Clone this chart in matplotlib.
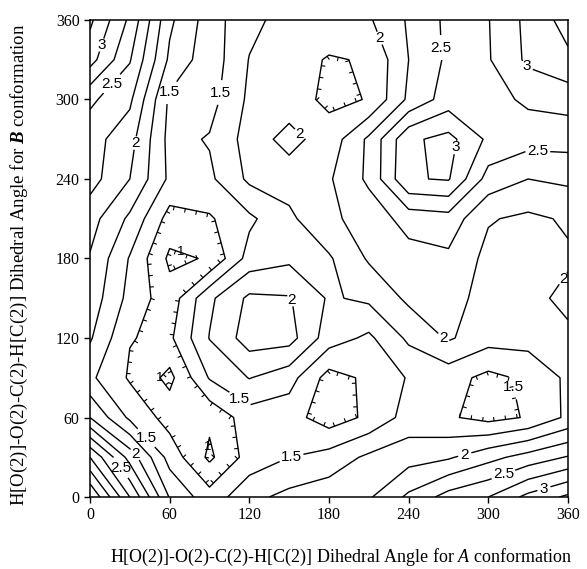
import numpy as np
import matplotlib
matplotlib.use("Agg")
import matplotlib.pyplot as plt
from matplotlib.path import Path
from matplotlib.collections import LineCollection

# grid of the two dihedral angles (degrees)
angle_a = [0, 30, 60, 90, 120, 150, 180, 210, 240, 270, 300, 330, 360]
angle_b = [0, 30, 60, 90, 120, 150, 180, 210, 240, 270, 300, 330, 360]

# relative energy, one list per B angle, A angle left to right
energy_b000 = [3.75, 2.75, 1.73, 1.35, 1.68, 1.82, 1.90, 1.97, 2.30, 2.60, 2.75, 3.07, 3.30]
energy_b030 = [3.00, 2.15, 1.40, 0.95, 1.35, 1.50, 1.60, 1.80, 1.90, 1.97, 2.17, 2.35, 2.52]
energy_b060 = [2.00, 1.45, 1.15, 1.05, 1.38, 1.35, 1.12, 1.30, 1.60, 1.53, 1.42, 1.52, 1.80]
energy_b090 = [1.55, 1.22, 0.93, 1.52, 1.76, 1.60, 1.15, 1.30, 1.52, 1.60, 1.43, 1.55, 1.80]
energy_b120 = [1.78, 1.26, 1.20, 1.76, 2.12, 2.10, 1.62, 1.45, 1.80, 2.03, 1.85, 1.85, 1.95]
energy_b150 = [1.90, 1.42, 1.10, 1.70, 2.05, 2.02, 1.72, 1.80, 2.05, 2.10, 1.90, 1.93, 2.06]
energy_b180 = [1.98, 1.48, 0.95, 1.02, 1.60, 1.70, 1.72, 2.03, 2.15, 2.20, 1.93, 1.90, 1.97]
energy_b210 = [2.10, 1.70, 1.15, 1.22, 1.45, 1.70, 1.95, 2.10, 2.35, 2.40, 2.02, 1.95, 2.03]
energy_b240 = [2.35, 2.00, 1.45, 1.45, 1.80, 1.85, 1.97, 2.30, 2.98, 3.02, 2.40, 2.25, 2.30]
energy_b270 = [2.35, 2.10, 1.42, 1.52, 1.85, 2.10, 1.85, 2.30, 2.95, 3.08, 2.70, 2.60, 2.60]
energy_b300 = [2.55, 2.30, 1.45, 1.40, 1.80, 1.85, 1.70, 1.76, 2.30, 2.62, 2.65, 2.80, 2.85]
energy_b330 = [3.10, 2.52, 1.70, 1.35, 1.76, 1.85, 1.73, 1.77, 2.25, 2.55, 2.73, 3.05, 3.20]
energy_b360 = [3.30, 2.70, 1.80, 1.38, 1.68, 1.85, 1.90, 1.97, 2.28, 2.56, 2.74, 3.07, 3.35]

plain_levels = [1.25, 1.75, 2.25, 2.75, 3.25, 3.5]
labelled_levels = [1.5, 2.0, 2.5, 3.0]
minimum_levels = [1.0]

# where the level numbers sit on the map (degrees)
MAIN_LABEL_SPOTS = [
    (15, 339), (22, 307), (35, 267), (59, 306), (100, 305), (160, 276),
    (159, 150), (111, 71), (45, 47), (35, 33), (23, 22), (152, 28),
    (220, 347), (261, 339), (329, 325), (274, 264), (337, 256), (356, 165),
    (264, 117), (324, 84), (282, 33), (311, 18), (340, 13),
]
MIN_LABEL_SPOTS = [(70, 190), (50, 88), (89, 38)]

STEP = 30.0

plt.rcParams["font.family"] = ["Liberation Serif", "DejaVu Serif"]
plt.rcParams["mathtext.fontset"] = "custom"
plt.rcParams["mathtext.rm"] = "Liberation Serif"
plt.rcParams["mathtext.it"] = "Liberation Serif:italic"
plt.rcParams["mathtext.bf"] = "Liberation Serif:italic:bold"


def grid_value(z, x, y):
    # bilinear lookup, only used to find the low side of a closed line
    fx = np.clip(x / STEP, 0, z.shape[1] - 1.001)
    fy = np.clip(y / STEP, 0, z.shape[0] - 1.001)
    i, j = int(fx), int(fy)
    tx, ty = fx - i, fy - j
    return ((1 - tx) * (1 - ty) * z[j, i] + tx * (1 - ty) * z[j, i + 1]
            + (1 - tx) * ty * z[j + 1, i] + tx * ty * z[j + 1, i + 1])


def split_subpaths(path):
    verts = path.vertices
    codes = path.codes
    if codes is None:
        return [(verts, False)]
    starts = list(np.flatnonzero(codes == Path.MOVETO)) + [len(verts)]
    pieces = []
    for s, e in zip(starts[:-1], starts[1:]):
        seg = verts[s:e].copy()
        closed = codes[e - 1] == Path.CLOSEPOLY
        if closed:
            seg[-1] = seg[0]
        elif len(seg) > 2 and np.allclose(seg[0], seg[-1]):
            closed = True
        pieces.append((seg, closed))
    return pieces


def hachure_ticks(cs, z, spacing=8.5, tick=3.0):
    ticks = []
    for level, path in zip(cs.levels, cs.get_paths()):
        for ring, closed in split_subpaths(path):
            if not closed or len(ring) < 4:
                continue
            x, y = ring[:, 0], ring[:, 1]
            area = 0.5 * np.sum(x[:-1] * y[1:] - x[1:] * y[:-1])
            sign = 1.0 if area > 0 else -1.0
            d = np.diff(ring, axis=0)
            seg_len = np.hypot(d[:, 0], d[:, 1])
            keep = seg_len > 1e-9
            d, seg_len, p0 = d[keep], seg_len[keep], ring[:-1][keep]
            normals = sign * np.column_stack([-d[:, 1], d[:, 0]]) / seg_len[:, None]
            mids = p0 + d / 2
            probe = [grid_value(z, *(m + 1.0 * n)) for m, n in zip(mids, normals)]
            if np.mean(probe) >= level:
                continue
            total = seg_len.sum()
            n_ticks = max(int(total // spacing), 2)
            cum = np.concatenate([[0], np.cumsum(seg_len)])
            for s in (np.arange(n_ticks) + 0.5) * total / n_ticks:
                k = min(np.searchsorted(cum, s, side="right") - 1, len(seg_len) - 1)
                t = (s - cum[k]) / seg_len[k]
                p = p0[k] + t * d[k]
                ticks.append([p, p + tick * normals[k]])
    return ticks


def main():
    z = np.array([energy_b000, energy_b030, energy_b060, energy_b090, energy_b120,
                  energy_b150, energy_b180, energy_b210, energy_b240, energy_b270,
                  energy_b300, energy_b330, energy_b360])

    fig = plt.figure(figsize=(5.87, 5.69), dpi=100)
    ax = fig.add_axes([0.1533, 0.1265, 0.8143, 0.8384])

    line_kw = dict(colors="black", linewidths=1.0)
    cs_plain = ax.contour(angle_a, angle_b, z, levels=plain_levels, **line_kw)
    cs_main = ax.contour(angle_a, angle_b, z, levels=labelled_levels, **line_kw)
    cs_min = ax.contour(angle_a, angle_b, z, levels=minimum_levels, **line_kw)

    ticks = []
    for cs in (cs_plain, cs_main, cs_min):
        ticks += hachure_ticks(cs, z)
    ax.add_collection(LineCollection(ticks, colors="black", linewidths=0.8))

    labels = ax.clabel(cs_main, manual=MAIN_LABEL_SPOTS, inline=True,
                       inline_spacing=3, fmt="%g", fontsize=11)
    labels += ax.clabel(cs_min, manual=MIN_LABEL_SPOTS, inline=False,
                        fmt="%g", fontsize=9.5)
    for t in labels:
        t.set_rotation(0)
        t.set_fontfamily("Liberation Sans")

    ax.set_xlim(0, 360)
    ax.set_ylim(0, 360)
    ax.set_xticks(range(0, 361, 60))
    ax.set_yticks(range(0, 361, 60))
    ax.tick_params(direction="out", length=4, width=1, labelsize=11.5)
    for spine in ax.spines.values():
        spine.set_linewidth(1.1)

    ax.set_xlabel("H[O(2)]-O(2)-C(2)-H[C(2)] Dihedral Angle for $\\mathit{A}$ conformation",
                  fontsize=13)
    ax.set_ylabel("H[O(2)]-O(2)-C(2)-H[C(2)] Dihedral Angle for $\\mathbf{B}$ conformation",
                  fontsize=13.5)
    ax.xaxis.set_label_coords(0.525, -0.105)
    ax.yaxis.set_label_coords(-0.125, 0.486)

    fig.savefig("out.png", dpi=100)


if __name__ == "__main__":
    main()
